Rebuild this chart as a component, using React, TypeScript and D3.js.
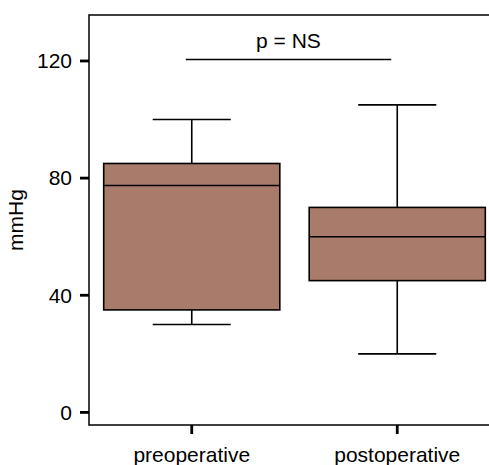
import React, { useEffect, useRef } from 'react';
import * as d3 from 'd3';

// box stats
const groups = ['preoperative', 'postoperative'];
const whiskerLow = [30, 20];
const q1 = [35, 45];
const median = [77.5, 60];
const q3 = [85, 70];
const whiskerHigh = [100, 105];
const yTicks = [0, 40, 80, 120];
const sigLevel = 120.5;
const sigLabel = 'p = NS';

const App = () => {
  const ref = useRef<SVGSVGElement>(null);

  useEffect(() => {
    const w = 489;
    const h = 465;
    const font = 'Liberation Sans, Arial, sans-serif';
    const fs = 21;

    const svg = d3.select(ref.current);
    svg.selectAll('*').remove();

    const y = d3.scaleLinear().domain([-4.3, 135.7]).range([425, 15]);
    const x = d3.scaleBand().domain(groups).range([89, 500]).padding(0);

    const boxW = x.bandwidth() * 0.857;
    const capW = x.bandwidth() * 0.38;
    const cx = (g: string) => (x(g) as number) + x.bandwidth() / 2;

    // frame: left, top, bottom (no right side)
    svg.append('path')
      .attr('d', `M${w},15H89V425H${w}`)
      .attr('fill', 'none')
      .attr('stroke', '#000')
      .attr('stroke-width', 1.5);

    // y ticks
    const yt = svg.append('g');
    yTicks.forEach(t => {
      yt.append('line')
        .attr('x1', 80).attr('x2', 89)
        .attr('y1', y(t)).attr('y2', y(t))
        .attr('stroke', '#000').attr('stroke-width', 2.8);
      yt.append('text')
        .attr('x', 72).attr('y', y(t))
        .attr('dy', '0.35em')
        .attr('text-anchor', 'end')
        .attr('font-family', font).attr('font-size', fs)
        .text(t);
    });

    // x ticks + labels
    groups.forEach(g => {
      svg.append('line')
        .attr('x1', cx(g)).attr('x2', cx(g))
        .attr('y1', 425).attr('y2', 434)
        .attr('stroke', '#000').attr('stroke-width', 2.8);
      svg.append('text')
        .attr('x', cx(g)).attr('y', 462)
        .attr('text-anchor', 'middle')
        .attr('font-family', font).attr('font-size', fs)
        .text(g);
    });

    // y label
    svg.append('text')
      .attr('transform', `translate(23,220) rotate(-90)`)
      .attr('text-anchor', 'middle')
      .attr('font-family', font).attr('font-size', fs)
      .text('mmHg');

    // boxes
    groups.forEach((g, i) => {
      const c = cx(g);
      const b = svg.append('g').attr('stroke', '#000').attr('stroke-width', 1.6);
      b.append('line')
        .attr('x1', c).attr('x2', c)
        .attr('y1', y(whiskerHigh[i])).attr('y2', y(q3[i]));
      b.append('line')
        .attr('x1', c).attr('x2', c)
        .attr('y1', y(q1[i])).attr('y2', y(whiskerLow[i]));
      b.append('line')
        .attr('x1', c - capW / 2).attr('x2', c + capW / 2)
        .attr('y1', y(whiskerHigh[i])).attr('y2', y(whiskerHigh[i]));
      b.append('line')
        .attr('x1', c - capW / 2).attr('x2', c + capW / 2)
        .attr('y1', y(whiskerLow[i])).attr('y2', y(whiskerLow[i]));
      b.append('rect')
        .attr('x', c - boxW / 2)
        .attr('y', y(q3[i]))
        .attr('width', boxW)
        .attr('height', y(q1[i]) - y(q3[i]))
        .attr('fill', '#a87b6b');
      b.append('line')
        .attr('x1', c - boxW / 2).attr('x2', c + boxW / 2)
        .attr('y1', y(median[i])).attr('y2', y(median[i]));
    });

    // significance bar
    const x0 = cx(groups[0]) - 6;
    const x1 = cx(groups[1]) - 6;
    svg.append('line')
      .attr('x1', x0).attr('x2', x1)
      .attr('y1', y(sigLevel)).attr('y2', y(sigLevel))
      .attr('stroke', '#000').attr('stroke-width', 1.6);
    svg.append('text')
      .attr('x', (x0 + x1) / 2).attr('y', 48)
      .attr('text-anchor', 'middle')
      .attr('font-family', font).attr('font-size', fs)
      .text(sigLabel);

    svg.attr('width', w).attr('height', h);
  }, []);

  return <svg ref={ref} style={{ position: 'absolute', left: 0, top: 0 }}></svg>;
};

export default App;
